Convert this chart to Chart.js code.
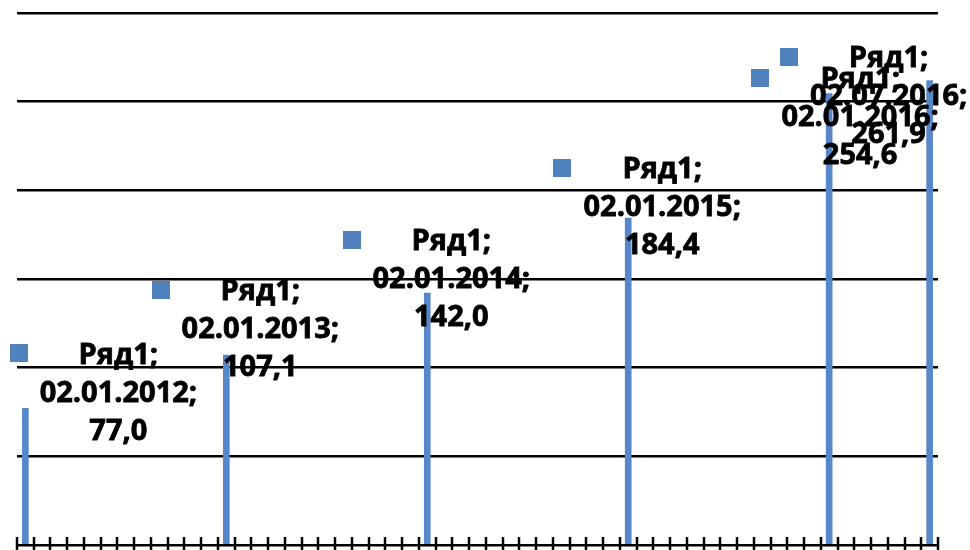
<!DOCTYPE html>
<html>
<head>
<meta charset="utf-8">
<script src="https://cdn.jsdelivr.net/npm/chart.js@4.4.1/dist/chart.umd.min.js"></script>
<style>
  html,body{margin:0;padding:0;background:#fff;}
  #wrap{width:970px;height:550px;position:relative;}
</style>
</head>
<body>
<div id="wrap"><canvas id="chart"></canvas></div>
<script>
// Series data
const seriesName = 'Ряд1';
const pointDates = ['02.01.2012', '02.01.2013', '02.01.2014', '02.01.2015', '02.01.2016', '02.07.2016'];
const pointValues = [77.0, 107.1, 142.0, 184.4, 254.6, 261.9];
// Month axis runs Jan 2012 .. Jul 2016 (one slot per month)
const axisStart = [2012, 1];
const axisEnd = [2016, 7];
const yTicks = [0, 50, 100, 150, 200, 250, 300];

// label layout (offset of text centre from bar top), kept apart from the data
const labelShift = [[93,-16],[34,-26],[24,-14],[34,-11],[31,23],[-41,15]];

// build month categories
const months = [];
for(let y=axisStart[0], m=axisStart[1]; y<axisEnd[0] || (y===axisEnd[0] && m<=axisEnd[1]); ){
  months.push(String(m).padStart(2,'0')+'.'+y);
  m++; if(m>12){m=1;y++;}
}
const monthIndex = pointDates.map(d=>months.indexOf(d.slice(3)));
const barData = months.map(()=>null);
monthIndex.forEach((mi,i)=>{ barData[mi] = pointValues[i]; });

const fmt = v => v.toFixed(1).replace('.', ',');

const tickPlugin = {
  id:'monthTicks',
  afterDraw(chart){
    const xs = chart.scales.x, ys = chart.scales.y;
    const ctx = chart.ctx;
    const y0 = ys.getPixelForValue(0);
    const step = xs.width / months.length;
    ctx.save();
    ctx.strokeStyle = '#000';
    ctx.lineWidth = 2.5;
    for(let i=0;i<=months.length;i++){
      const x = Math.round(xs.left + i*step);
      ctx.beginPath();
      ctx.moveTo(x, y0-8);
      ctx.lineTo(x, y0+6);
      ctx.stroke();
    }
    ctx.restore();
  }
};

const labelPlugin = {
  id:'pointLabels',
  afterDatasetsDraw(chart){
    const ctx = chart.ctx;
    const meta = chart.getDatasetMeta(0);
    const lineH = 38;
    ctx.save();
    ctx.font = 'bold 29px "Open Sans"';
    ctx.textAlign = 'center';
    ctx.textBaseline = 'middle';
    ctx.lineWidth = 0.8;
    ctx.strokeStyle = '#000';
    monthIndex.forEach((mi,i)=>{
      const bar = meta.data[mi];
      const cx = bar.x + labelShift[i][0];
      const cy = bar.y + labelShift[i][1];
      const lines = [seriesName+';', pointDates[i]+';', fmt(pointValues[i])];
      const wMax = Math.max(...lines.map(t=>ctx.measureText(t).width));
      // legend key
      ctx.fillStyle = '#4F81BD';
      ctx.fillRect(Math.round(cx - wMax/2 - 30), Math.round(cy - lineH - 10), 18, 18);
      ctx.fillStyle = '#000';
      lines.forEach((t,k)=>{
        ctx.fillText(t, cx, cy + (k-1)*lineH + 1);
        ctx.strokeText(t, cx, cy + (k-1)*lineH + 1);
      });
    });
    ctx.restore();
  }
};

new Chart(document.getElementById('chart'), {
  type:'bar',
  data:{
    labels: months,
    datasets:[{
      label: seriesName,
      data: barData,
      backgroundColor:'#5787C9',
      borderWidth:0,
      barThickness:6,
      skipNull:true
    }]
  },
  options:{
    responsive:true,
    maintainAspectRatio:false,
    animation:false,
    layout:{padding:{left:17,right:32,top:13,bottom:5}},
    plugins:{legend:{display:false},tooltip:{enabled:false}},
    scales:{
      x:{
        display:false,
        offset:true
      },
      y:{
        min:yTicks[0],
        max:yTicks[yTicks.length-1],
        afterBuildTicks(scale){ scale.ticks = yTicks.map(v=>({value:v})); },
        ticks:{display:false},
        border:{display:false},
        grid:{color:'#000',lineWidth:2.5,drawTicks:false}
      }
    }
  },
  plugins:[tickPlugin,labelPlugin]
});
</script>
</body>
</html>
